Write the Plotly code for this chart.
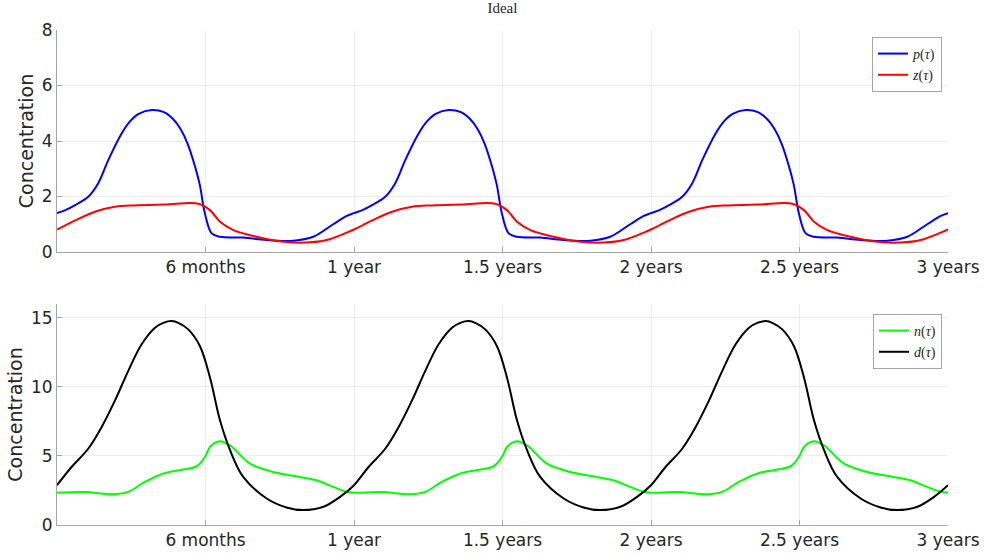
import plotly.graph_objects as go

# ---- data (one annual cycle; the solution is periodic) ----
years = [0, 1, 2]
t_end = 3.0

t_p = [0, 0.03, 0.061, 0.105, 0.139, 0.173, 0.218, 0.245, 0.275, 0.319, 0.36, 0.39, 0.415, 0.44,
       0.465, 0.481, 0.498, 0.521, 0.549, 0.627, 0.706, 0.796, 0.863, 0.93, 0.976]
p_val = [1.40, 1.52, 1.69, 1.99, 2.48, 3.32, 4.28, 4.70, 4.98, 5.12, 5.04, 4.80, 4.45, 3.90,
         3.07, 2.41, 1.39, 0.67, 0.55, 0.52, 0.43, 0.41, 0.55, 1.0, 1.30]

t_z = [0, 0.03, 0.06, 0.128, 0.195, 0.263, 0.364, 0.476, 0.515, 0.549, 0.594, 0.672, 0.762,
       0.841, 0.908, 0.976]
z_val = [0.81, 0.97, 1.13, 1.45, 1.63, 1.68, 1.71, 1.74, 1.51, 1.09, 0.79, 0.55, 0.37,
         0.34, 0.43, 0.70]

t_n = [0, 0.094, 0.195, 0.24, 0.296, 0.364, 0.431, 0.465, 0.481, 0.498, 0.515, 0.532, 0.549,
       0.583, 0.65, 0.728, 0.818, 0.874, 0.93, 0.976]
n_val = [2.33, 2.38, 2.23, 2.4, 3.12, 3.77, 4.03, 4.2, 4.44, 4.92, 5.64, 5.95, 6.07,
         5.76, 4.44, 3.84, 3.48, 3.24, 2.76, 2.4]

t_d = [0, 0.049, 0.105, 0.15, 0.195, 0.24, 0.285, 0.33, 0.36, 0.386, 0.41, 0.442, 0.481,
       0.515, 0.549, 0.583, 0.627, 0.706, 0.773, 0.829, 0.897, 0.953]
d_val = [2.88, 4.2, 5.52, 7.08, 9.0, 11.16, 13.08, 14.28, 14.65, 14.76, 14.62, 14.16, 12.96,
         10.68, 7.56, 5.4, 3.48, 1.92, 1.27, 1.08, 1.32, 2.04]

x_tickvals = [0.5, 1, 1.5, 2, 2.5, 3]
x_ticktext = ["6 months", "1 year", "1.5 years", "2 years", "2.5 years", "3 years"]
y1_ticks = [0, 2, 4, 6, 8]
y2_ticks = [0, 5, 10, 15]


def cycle(ts, vs):
    xs, ys = [], []
    for k in years:
        xs += [t + k for t in ts]
        ys += list(vs)
    xs.append(t_end)
    ys.append(vs[0])
    return xs, ys


fig = go.Figure()
serif = "Liberation Serif, DejaVu Serif, serif"
lw = 2

for ts, vs, name, col, xa, ya, lg in [
    (t_p, p_val, "<i>p</i>(<i>τ</i>)", "#0000ff", "x", "y", "legend"),
    (t_z, z_val, "<i>z</i>(<i>τ</i>)", "#ff0000", "x", "y", "legend"),
    (t_n, n_val, "<i>n</i>(<i>τ</i>)", "#00ff00", "x2", "y2", "legend2"),
    (t_d, d_val, "<i>d</i>(<i>τ</i>)", "#000000", "x2", "y2", "legend2"),
]:
    xs, ys = cycle(ts, vs)
    fig.add_trace(go.Scatter(x=xs, y=ys, mode="lines", name=name, xaxis=xa, yaxis=ya,
                             legend=lg,
                             line=dict(color=col, width=lw, shape="spline", smoothing=1.0)))

axis_common = dict(showline=True, linecolor="#a6a6a6", linewidth=1,
                   showgrid=True, gridcolor="#ececec", gridwidth=1,
                   ticks="inside", ticklen=5, tickcolor="#a6a6a6",
                   tickfont=dict(family="DejaVu Sans", size=17, color="#262626"),
                   zeroline=False, mirror=False, automargin=False)

top_dom = [0.5515, 1.0]
bot_dom = [0.0, 0.4465]
ytitle_font = dict(family="DejaVu Sans", size=19, color="#262626")

fig.update_layout(
    width=984, height=556,
    margin=dict(l=57, r=36, t=30, b=31, autoexpand=False),
    paper_bgcolor="white", plot_bgcolor="white",
    title=dict(text="Ideal", x=0.5106, xanchor="center", y=1 - 8 / 556, yanchor="middle",
               font=dict(family=serif, size=15, color="#262626")),
    xaxis=dict(domain=[0, 1], anchor="y", range=[0, 3], tickvals=x_tickvals,
               ticktext=x_ticktext, **axis_common),
    yaxis=dict(domain=top_dom, anchor="x", range=[0, 8], tickvals=y1_ticks,
               title=dict(text="Concentration", font=ytitle_font, standoff=3),
               **axis_common),
    xaxis2=dict(domain=[0, 1], anchor="y2", range=[0, 3], tickvals=x_tickvals,
                ticktext=x_ticktext, **axis_common),
    yaxis2=dict(domain=bot_dom, anchor="x2", range=[0, 16], tickvals=y2_ticks,
                title=dict(text="Concentration", font=ytitle_font, standoff=3),
                **axis_common),
    legend=dict(x=0.9933, xanchor="right", y=0.9859, yanchor="top",
                bgcolor="white", bordercolor="#a6a6a6", borderwidth=1,
                font=dict(family=serif, size=14, color="#262626"),
                itemwidth=30, tracegroupgap=0),
    legend2=dict(x=0.9933, xanchor="right", y=0.4263, yanchor="top",
                 bgcolor="white", bordercolor="#a6a6a6", borderwidth=1,
                 font=dict(family=serif, size=14, color="#262626"),
                 itemwidth=30, tracegroupgap=0),
    showlegend=True,
)

fig.write_html("out.html", config={"displayModeBar": False},
               post_script="document.body.style.margin='0';document.body.style.overflow='hidden';")
